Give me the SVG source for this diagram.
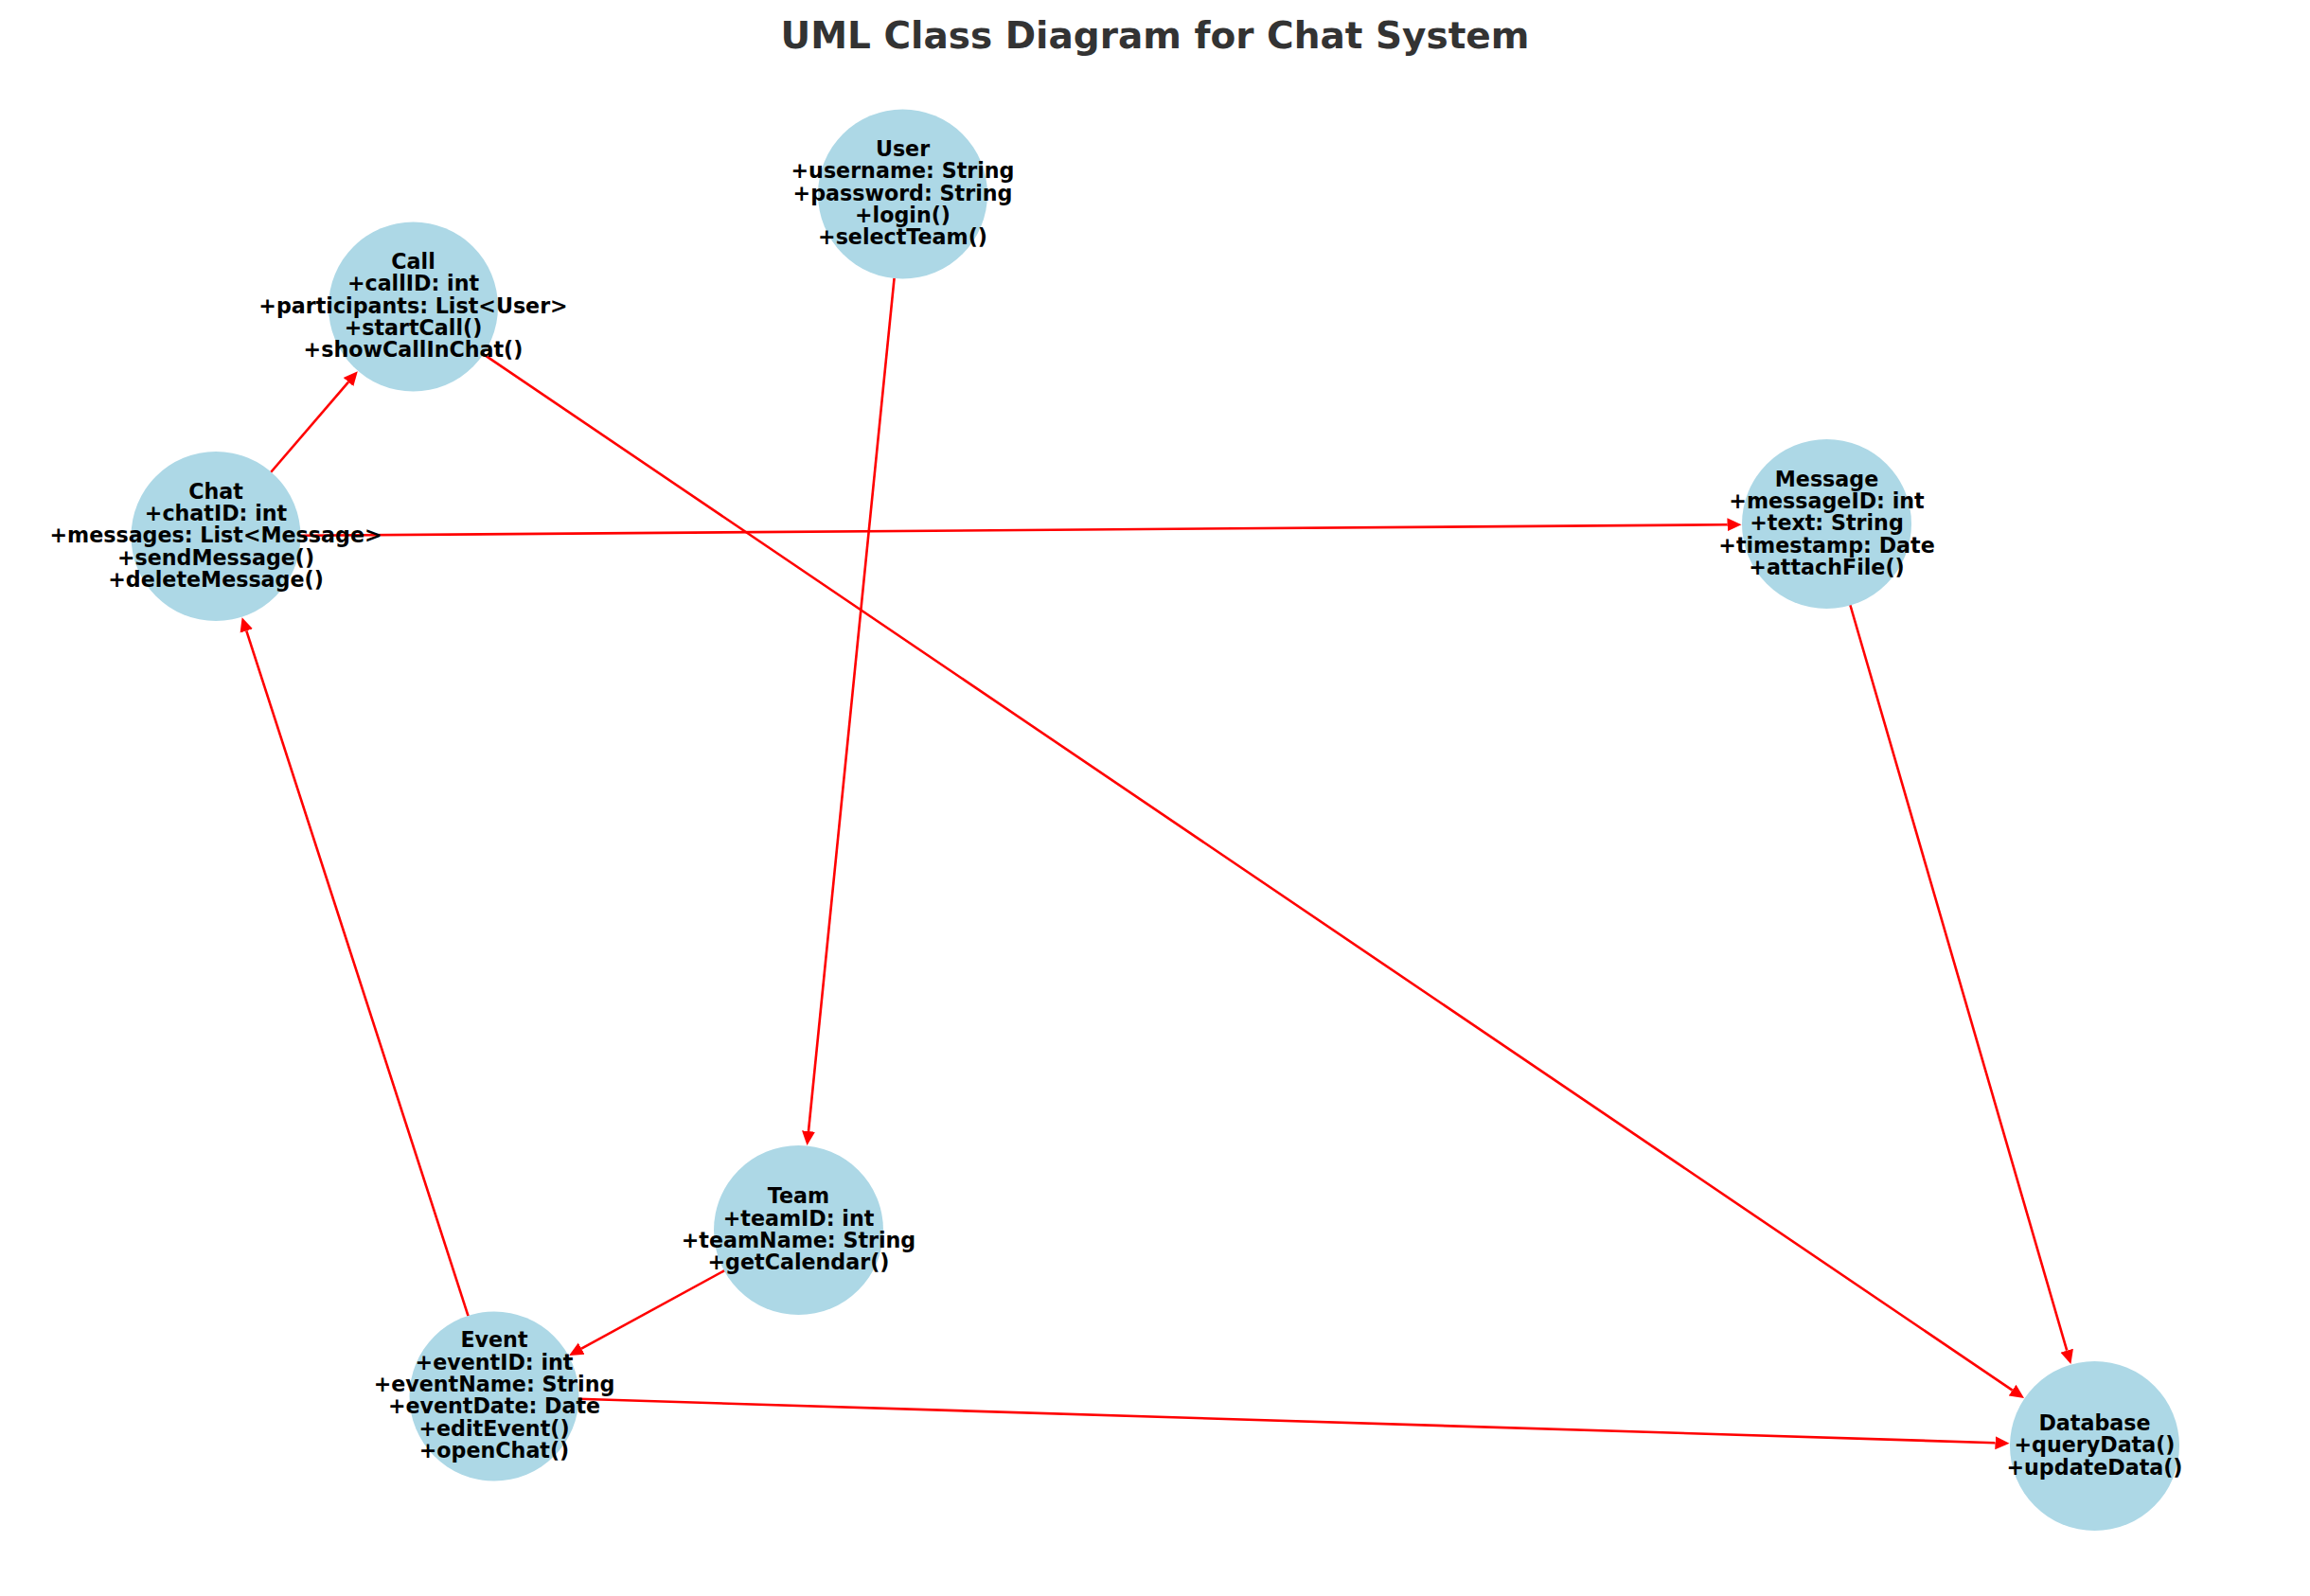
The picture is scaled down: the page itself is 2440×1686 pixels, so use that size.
<svg xmlns="http://www.w3.org/2000/svg" width="2440" height="1686" viewBox="0 0 2440 1686">
<style>
.bg{fill:#ffffff}
.title{font-family:"DejaVu Sans","Liberation Sans",sans-serif;font-weight:bold;font-size:39px;fill:#333333;text-anchor:middle}
.node circle{fill:#ADD8E6}
.node text{font-family:"DejaVu Sans","Liberation Sans",sans-serif;font-weight:bold;font-size:22.2px;fill:#000000;text-anchor:middle}
.edge{stroke:#FF0000;stroke-width:2.6;fill:none;marker-end:url(#arr)}
</style>
<defs>
<marker id="arr" markerUnits="userSpaceOnUse" viewBox="0 -8 16 16" markerWidth="16" markerHeight="16" refX="0" refY="0" orient="auto">
<path d="M0,-7 L15,0 L0,7 Z" fill="#FF0000"/>
</marker>
</defs>
<rect class="bg" x="0" y="0" width="2440" height="1686"/>
<text class="title" x="1220" y="51">UML Class Diagram for Chat System</text>
<g id="edges">
<line class="edge" x1="286.0" y1="499.0" x2="368.0" y2="403.6"/>
<line class="edge" x1="317.0" y1="565.8" x2="1824.5" y2="554.3"/>
<line class="edge" x1="944.6" y1="293.6" x2="854.0" y2="1195.0"/>
<line class="edge" x1="510.2" y1="373.9" x2="2125.6" y2="1468.6"/>
<line class="edge" x1="1954.3" y1="639.0" x2="2183.2" y2="1426.7"/>
<line class="edge" x1="765.4" y1="1342.1" x2="614.2" y2="1424.7"/>
<line class="edge" x1="494.6" y1="1390.3" x2="260.3" y2="666.4"/>
<line class="edge" x1="611.0" y1="1477.8" x2="2107.5" y2="1524.2"/>
</g>
<g id="User" class="node">
<circle cx="953.5" cy="205" r="89.5"/>
<text><tspan x="953.5" y="165.0">User</tspan><tspan x="953.5" y="188.35">+username: String</tspan><tspan x="953.5" y="211.7">+password: String</tspan><tspan x="953.5" y="235.05">+login()</tspan><tspan x="953.5" y="258.4">+selectTeam()</tspan></text>
</g>
<g id="Call" class="node">
<circle cx="436.5" cy="324" r="89.5"/>
<text><tspan x="436.5" y="284.0">Call</tspan><tspan x="436.5" y="307.35">+callID: int</tspan><tspan x="436.5" y="330.7">+participants: List&lt;User&gt;</tspan><tspan x="436.5" y="354.05">+startCall()</tspan><tspan x="436.5" y="377.4">+showCallInChat()</tspan></text>
</g>
<g id="Chat" class="node">
<circle cx="228" cy="566.5" r="89.5"/>
<text><tspan x="228" y="526.5">Chat</tspan><tspan x="228" y="549.85">+chatID: int</tspan><tspan x="228" y="573.2">+messages: List&lt;Message&gt;</tspan><tspan x="228" y="596.55">+sendMessage()</tspan><tspan x="228" y="619.9">+deleteMessage()</tspan></text>
</g>
<g id="Message" class="node">
<circle cx="1929.5" cy="553.5" r="89.5"/>
<text><tspan x="1929.5" y="513.5">Message</tspan><tspan x="1929.5" y="536.85">+messageID: int</tspan><tspan x="1929.5" y="560.2">+text: String</tspan><tspan x="1929.5" y="583.55">+timestamp: Date</tspan><tspan x="1929.5" y="606.9">+attachFile()</tspan></text>
</g>
<g id="Team" class="node">
<circle cx="843.5" cy="1299.5" r="89.5"/>
<text><tspan x="843.5" y="1271.2">Team</tspan><tspan x="843.5" y="1294.5">+teamID: int</tspan><tspan x="843.5" y="1317.9">+teamName: String</tspan><tspan x="843.5" y="1341.2">+getCalendar()</tspan></text>
</g>
<g id="Event" class="node">
<circle cx="522" cy="1475" r="89.5"/>
<text><tspan x="522" y="1423.3">Event</tspan><tspan x="522" y="1446.65">+eventID: int</tspan><tspan x="522" y="1470.0">+eventName: String</tspan><tspan x="522" y="1493.35">+eventDate: Date</tspan><tspan x="522" y="1516.7">+editEvent()</tspan><tspan x="522" y="1540.05">+openChat()</tspan></text>
</g>
<g id="Database" class="node">
<circle cx="2212.5" cy="1527.5" r="89.5"/>
<text><tspan x="2212.5" y="1510.85">Database</tspan><tspan x="2212.5" y="1534.2">+queryData()</tspan><tspan x="2212.5" y="1557.55">+updateData()</tspan></text>
</g>
</svg>
